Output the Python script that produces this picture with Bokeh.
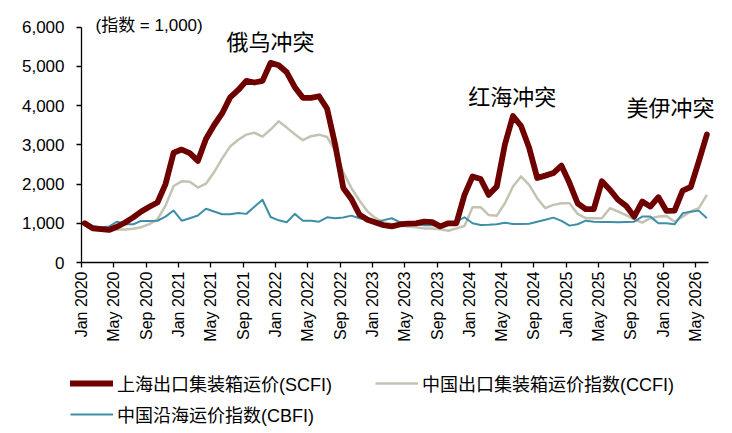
import numpy as np
from bokeh.plotting import figure
from bokeh.layouts import column, row
from bokeh.models import (Range1d, FixedTicker, NumeralTickFormatter, Legend, LegendItem,
                          Label, ColumnDataSource)
from bokeh.embed import file_html
from bokeh.resources import INLINE

# ---------------- data (monthly, Jan 2020 .. Jun 2026, index = 1,000) ----------------
scfi = [1000, 870, 850, 830, 910, 1020, 1150, 1300, 1420, 1530,
        2000, 2800, 2880, 2790, 2590, 3150, 3500, 3800, 4210, 4400,
        4630, 4590, 4630, 5090, 5030, 4850, 4470, 4200, 4200, 4240,
        3920, 3000, 1900, 1620, 1220, 1090, 1020, 950, 920, 970,
        990, 1000, 1040, 1030, 920, 1000, 1000, 1725, 2195, 2130,
        1725, 1940, 3010, 3735, 3480, 2925, 2155, 2215, 2280, 2470,
        2025, 1510, 1360, 1360, 2070, 1855, 1600, 1445, 1170, 1555,
        1425, 1665, 1315, 1325, 1835, 1925, 2580, 3265]
ccfi = [1000, 910, 870, 850, 840, 840, 860, 900, 980, 1100,
        1450, 1950, 2070, 2060, 1910, 2010, 2300, 2650, 2960, 3130,
        3260, 3310, 3210, 3390, 3600, 3440, 3270, 3120, 3220, 3260,
        3200, 2850, 2300, 1900, 1580, 1300, 1130, 1030, 980, 940,
        920, 900, 870, 870, 850, 810, 870, 930, 1410, 1410,
        1210, 1195, 1510, 1940, 2195, 1980, 1640, 1385, 1470, 1510,
        1510, 1240, 1130, 1130, 1130, 1385, 1300, 1210, 1100, 1015,
        1130, 1170, 1185, 1040, 1170, 1300, 1385, 1725]
cbfi = [1000, 930, 900, 915, 1040, 975, 975, 1060, 1060, 1065,
        1170, 1325, 1065, 1130, 1200, 1370, 1300, 1230, 1230, 1265,
        1240, 1420, 1600, 1160, 1075, 1025, 1240, 1067, 1067, 1040,
        1153, 1130, 1150, 1195, 1130, 1085, 1020, 1080, 1128, 1030,
        1000, 975, 950, 950, 945, 975, 1050, 1153, 1000, 956,
        960, 974, 1015, 982, 982, 990, 1041, 1090, 1144, 1060,
        940, 975, 1067, 1041, 1035, 1030, 1025, 1035, 1041, 1170,
        1170, 1000, 1000, 974, 1255, 1297, 1323, 1128]

tick_labels = ["Jan 2020", "May 2020", "Sep 2020", "Jan 2021", "May 2021", "Sep 2021",
               "Jan 2022", "May 2022", "Sep 2022", "Jan 2023", "May 2023", "Sep 2023",
               "Jan 2024", "May 2024", "Sep 2024", "Jan 2025", "May 2025", "Sep 2025",
               "Jan 2026", "May 2026"]
series_names = ["上海出口集装箱运价(SCFI)", "中国出口集装箱运价指数(CCFI)", "中国沿海运价指数(CBFI)"]
events = ["俄乌冲突", "红海冲突", "美伊冲突"]
unit_note = "(指数 = 1,000)"

# ---------------- styles ----------------
LAT = "Liberation Sans"
MIX = "Liberation Sans, Noto Sans CJK SC"
C_SC, C_CC, C_CB = "#6E0000", "#C4C3B3", "#3C8FA7"
W_SC, W_CC, W_CB = 5.8, 2.5, 2

n = len(scfi)
months = np.arange(n) + 0.4
src = ColumnDataSource(dict(x=months, scfi=scfi, ccfi=ccfi, cbfi=cbfi))

# ---------------- main chart ----------------
p = figure(frame_width=643, frame_height=252, output_backend="svg", toolbar_location=None,
           x_range=Range1d(0, 79.58), y_range=Range1d(0, 6426),
           min_border=0, min_border_left=81, min_border_top=10, min_border_right=8,
           min_border_bottom=80)
p.outline_line_color = None
p.grid.grid_line_color = None

p.line("x", "ccfi", source=src, line_color=C_CC, line_width=W_CC, line_join="round")
p.line("x", "cbfi", source=src, line_color=C_CB, line_width=W_CB, line_join="round")
p.line("x", "scfi", source=src, line_color=C_SC, line_width=W_SC, line_join="round",
       line_cap="round")

xa = p.xaxis[0]
xa.bounds = (0, 77.6)
xa.ticker = FixedTicker(ticks=list(range(0, 4 * len(tick_labels), 4)))
xa.major_label_overrides = {i * 4: t for i, t in enumerate(tick_labels)}
xa.major_label_orientation = np.pi / 2
xa.major_label_text_font = LAT
xa.major_label_text_font_size = "16px"
xa.major_label_text_color = "#000000"
xa.major_tick_in = 0
xa.major_tick_out = 5
xa.minor_tick_line_color = None
xa.major_label_standoff = 4
xa.axis_line_color = "#000000"
xa.axis_line_width = 1.3
xa.major_tick_line_color = "#000000"
xa.major_tick_line_width = 1.3

ya = p.yaxis[0]
ya.bounds = (0, 6000)
ya.ticker = FixedTicker(ticks=[0, 1000, 2000, 3000, 4000, 5000, 6000])
ya.formatter = NumeralTickFormatter(format="0,0")
ya.major_label_text_font = LAT
ya.major_label_text_font_size = "17px"
ya.major_label_text_color = "#000000"
ya.major_tick_in = 0
ya.major_tick_out = 5
ya.minor_tick_line_color = None
ya.major_label_standoff = 12
ya.axis_line_color = "#000000"
ya.axis_line_width = 1.3
ya.major_tick_line_color = "#000000"
ya.major_tick_line_width = 1.3

p.add_layout(Label(x=1.73, y=6043, text=unit_note, text_font=MIX, text_font_size="17px",
                   text_align="left", text_baseline="middle", text_color="#000000"))
for (ex, ey), t in zip([(23.4, 5610), (53.3, 4207), (72.9, 3927)], events):
    p.add_layout(Label(x=ex, y=ey, text=t, text_font=MIX, text_font_size="22px",
                       text_align="center", text_baseline="middle", text_color="#000000"))

# ---------------- legend strip ----------------
# the series are drawn again here only to carry the legend swatches; this strip's
# ranges lie far outside the data, so nothing but the legend shows.
H_MAIN = 10 + 252 + 80
q = figure(width=732, height=433 - H_MAIN, output_backend="svg", toolbar_location=None,
           x_range=Range1d(-2, -1), y_range=Range1d(-2, -1),
           x_axis_location=None, y_axis_location=None,
           min_border=0, min_border_left=70, min_border_top=26)
q.outline_line_color = None
q.grid.grid_line_color = None
l_sc = q.line("x", "scfi", source=src, line_color=C_SC, line_width=W_SC, line_cap="round")
l_cc = q.line("x", "ccfi", source=src, line_color=C_CC, line_width=W_CC)
l_cb = q.line("x", "cbfi", source=src, line_color=C_CB, line_width=W_CB)

legend = Legend(items=[LegendItem(label=series_names[0], renderers=[l_sc]),
                       LegendItem(label=series_names[1], renderers=[l_cc]),
                       LegendItem(label=series_names[2], renderers=[l_cb])],
                location="top_left", orientation="horizontal", ncols=2,
                margin=0, padding=0, spacing=5, glyph_width=43, glyph_height=24,
                label_height=24, label_width=253, label_standoff=4,
                label_text_font=MIX, label_text_font_size="18px", label_text_color="#000000",
                border_line_color=None, background_fill_alpha=0)
q.add_layout(legend, "center")

page = column(p, row(q), spacing=0)
open("out.html", "w").write(file_html(page, INLINE))
